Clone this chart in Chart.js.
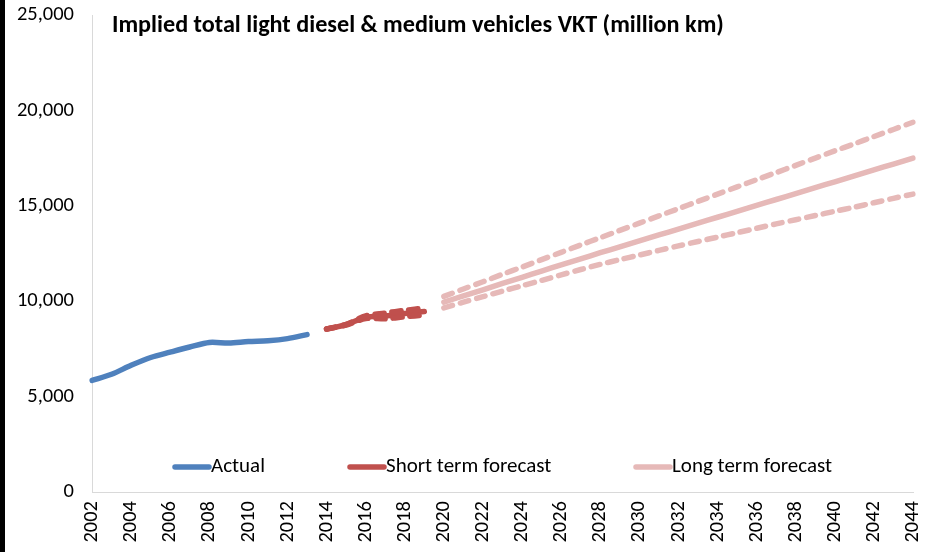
<!DOCTYPE html>
<html>
<head>
<meta charset="utf-8">
<script src="https://cdn.jsdelivr.net/npm/chart.js@4"></script>
<style>
  html, body { margin: 0; padding: 0; background: #fff; }
  #wrap { position: relative; width: 928px; height: 552px; }
  #leftbar { position: absolute; left: 0; top: 0; width: 5px; height: 552px; background: #000; }
</style>
</head>
<body>
<div id="wrap">
  <canvas id="c" width="928" height="552"></canvas>
  <div id="leftbar"></div>
</div>
<script>
const TITLE = 'Implied total light diesel & medium vehicles VKT (million km)';
const years = [];
for (let y = 2002; y <= 2044; y++) years.push(String(y));

const actualYears = ['2002','2003','2004','2005','2006','2007','2008','2009','2010','2011','2012','2013'];
const actualValues = [5850, 6170, 6640, 7050, 7330, 7600, 7840, 7810, 7890, 7930, 8040, 8250];

const shortYears = ['2014','2015','2016','2017','2018','2019'];
const shortValues = [8540, 8770, 9160, 9230, 9350, 9460];
const shortUpper  = [8540, 8790, 9230, 9380, 9520, 9640];
const shortLower  = [8540, 8750, 9090, 9080, 9180, 9280];

const longYears = ['2020','2021','2022','2023','2024','2025','2026','2027','2028','2029','2030','2031','2032',
                   '2033','2034','2035','2036','2037','2038','2039','2040','2041','2042','2043','2044'];
const longValues = [9950, 10280, 10600, 10930, 11250, 11580, 11900, 12220, 12540, 12850, 13160, 13470, 13780,
                    14090, 14400, 14710, 15020, 15330, 15640, 15950, 16260, 16570, 16880, 17190, 17500];
const longUpper  = [10250, 10640, 11020, 11410, 11790, 12180, 12560, 12950, 13330, 13710, 14090, 14470, 14850,
                    15230, 15610, 15990, 16370, 16740, 17120, 17500, 17880, 18250, 18630, 19000, 19380];
const longLower  = [9650, 9950, 10240, 10530, 10810, 11090, 11380, 11660, 11930, 12180, 12420, 12660, 12900,
                    13130, 13360, 13590, 13820, 14050, 14270, 14490, 14710, 14930, 15160, 15390, 15615];

const yTicks = [0, 5000, 10000, 15000, 20000, 25000];

function place(srcYears, srcVals) {
  return years.map(y => {
    const i = srcYears.indexOf(y);
    return i >= 0 ? srcVals[i] : null;
  });
}

const BLUE = '#4F81BD', RED = '#C0504D', PINK = '#E6B9B8';
const FONT = "Carlito, Calibri, 'Liberation Sans Narrow', Lato, sans-serif";
const TXT = '#000';

function ds(label, data, color, dashed) {
  return {
    label, data: data, borderColor: color, backgroundColor: color,
    borderWidth: 5.5, pointRadius: 0, pointHoverRadius: 0, tension: 0.3,
    borderCapStyle: 'round', borderJoinStyle: 'round',
    borderDash: dashed ? [9, 8] : [], spanGaps: false, fill: false
  };
}

const overlay = {
  id: 'overlay',
  afterDraw(chart) {
    const ctx = chart.ctx, a = chart.chartArea;
    ctx.save();
    ctx.fillStyle = '#000';
    ctx.font = "bold 24.2px " + FONT;
    ctx.textBaseline = 'middle';
    ctx.textAlign = 'left';
    ctx.fillText(TITLE, a.left + 20, 26);
    const items = [
      { text: 'Actual', color: BLUE, x: 175 },
      { text: 'Short term forecast', color: RED, x: 350 },
      { text: 'Long term forecast', color: PINK, x: 636 }
    ];
    ctx.font = "21px " + FONT;
    ctx.fillStyle = TXT;
    items.forEach(it => {
      ctx.strokeStyle = it.color;
      ctx.lineWidth = 5.5;
      ctx.lineCap = 'round';
      ctx.beginPath();
      ctx.moveTo(it.x, 467);
      ctx.lineTo(it.x + 34, 467);
      ctx.stroke();
      ctx.fillText(it.text, it.x + 36, 467);
    });
    ctx.restore();
  }
};

new Chart(document.getElementById('c'), {
  type: 'line',
  data: {
    labels: years,
    datasets: [
      ds('Actual', place(actualYears, actualValues), BLUE, false),
      ds('Short upper', place(shortYears, shortUpper), RED, true),
      ds('Short lower', place(shortYears, shortLower), RED, true),
      ds('Short term forecast', place(shortYears, shortValues), RED, false),
      ds('Long upper', place(longYears, longUpper), PINK, true),
      ds('Long lower', place(longYears, longLower), PINK, true),
      ds('Long term forecast', place(longYears, longValues), PINK, false)
    ]
  },
  options: {
    responsive: false,
    animation: false,
    layout: { padding: { left: 0, right: 15, top: 15, bottom: 0 } },
    plugins: { legend: { display: false }, title: { display: false }, tooltip: { enabled: false } },
    scales: {
      x: {
        offset: false,
        grid: { display: false, drawTicks: false },
        border: { display: true, color: '#D9D9D9', width: 1 },
        ticks: {
          autoSkip: false, maxRotation: 90, minRotation: 90, padding: 9,
          color: '#000', font: { family: FONT, size: 20.5 },
          callback: function(v, i) { return i % 2 === 0 ? years[i] : null; }
        },
        afterFit(s) { s.height = 60; s.paddingRight = 0; s.paddingLeft = 0; }
      },
      y: {
        min: 0, max: 25000,
        grid: { display: false, drawTicks: false },
        border: { display: true, color: '#D9D9D9', width: 1 },
        afterBuildTicks(s) { s.ticks = yTicks.map(v => ({ value: v })); },
        ticks: {
          padding: 18, color: '#000', font: { family: FONT, size: 20.5 },
          callback: v => v.toLocaleString('en-US')
        },
        afterFit(s) { s.width = 92; s.paddingTop = 0; s.paddingBottom = 0; }
      }
    }
  },
  plugins: [overlay]
});
</script>
</body>
</html>
